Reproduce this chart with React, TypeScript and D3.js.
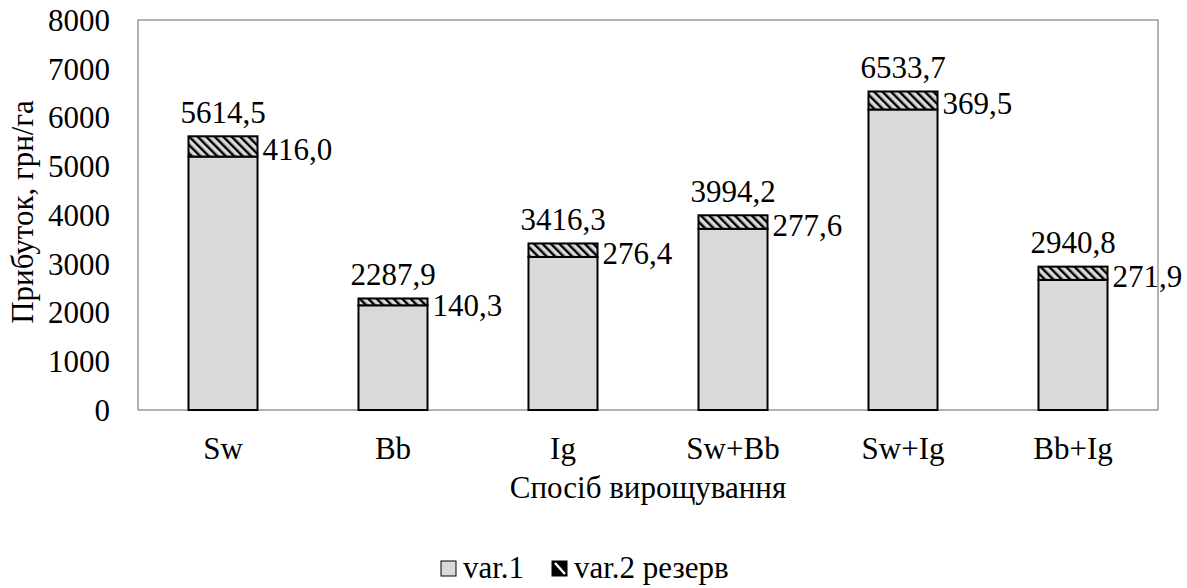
import React from "react";
import * as d3 from "d3";

const categories = ["Sw", "Bb", "Ig", "Sw+Bb", "Sw+Ig", "Bb+Ig"];
const var1Values = [5198.5, 2147.6, 3139.9, 3716.6, 6164.2, 2668.9];
const reserveValues = [416.0, 140.3, 276.4, 277.6, 369.5, 271.9];
const totalValues = [5614.5, 2287.9, 3416.3, 3994.2, 6533.7, 2940.8];
const yTicks = [0, 1000, 2000, 3000, 4000, 5000, 6000, 7000, 8000];
const seriesNames = ["var.1", "var.2 резерв"];
const yTitle = "Прибуток, грн/га";
const xTitle = "Спосіб вирощування";

const W = 1187;
const H = 588;
const plot = { left: 138, top: 20, right: 1158, bottom: 410 };
const FS = 31;
const GRAY = "#d9d9d9";

const fmt = (v: number) => v.toFixed(1).replace(".", ",");

function T(props: any) {
  const { children, ...rest } = props;
  return (
    <text
      {...rest}
      fontFamily="Liberation Serif"
      fontSize={FS}
      fill="#000"
      style={{ fontFamily: "Liberation Serif", fontSize: FS }}
    >
      {children}
    </text>
  );
}

export default function App() {
  const x = d3
    .scaleBand<string>()
    .domain(categories)
    .range([plot.left, plot.right])
    .paddingInner(0.594)
    .paddingOuter(0.297);
  const y = d3.scaleLinear().domain([0, 8000]).range([plot.bottom, plot.top]);
  const bw = x.bandwidth();
  const midX = (plot.left + plot.right) / 2;

  return (
    <div style={{ fontFamily: "Liberation Serif" }}>
      <svg
        width={W}
        height={H}
        fontFamily="Liberation Serif"
        style={{ position: "absolute", left: 0, top: 0, background: "#fff" }}
      >
        <defs>
          <pattern
            id="hatch"
            patternUnits="userSpaceOnUse"
            width={6}
            height={6}
            patternTransform="rotate(-45)"
          >
            <rect x={0} y={0} width={6} height={6} fill={GRAY} />
            <rect x={0} y={0} width={2.4} height={6} fill="#000" />
          </pattern>
        </defs>
        <rect x={0} y={0} width={W} height={H} fill="#fff" />
        <rect
          x={plot.left}
          y={plot.top}
          width={plot.right - plot.left}
          height={plot.bottom - plot.top}
          fill="none"
          stroke="#808080"
          strokeWidth={1.2}
        />
        {yTicks.map((t) => (
          <T key={t} x={110} y={y(t)} dy="0.35em" textAnchor="end">
            {t}
          </T>
        ))}
        {categories.map((c, i) => {
          const x0 = x(c)!;
          const yb = y(0);
          const y1 = y(var1Values[i]);
          const y2 = y(var1Values[i] + reserveValues[i]);
          const yt = y(totalValues[i]);
          return (
            <g key={c}>
              <rect x={x0} y={y1} width={bw} height={yb - y1} fill={GRAY} stroke="#000" strokeWidth={2} />
              <rect x={x0} y={y2} width={bw} height={y1 - y2} fill="url(#hatch)" stroke="#000" strokeWidth={2} />
              <T x={x0 + bw / 2} y={yt - 13.5} textAnchor="middle">
                {fmt(totalValues[i])}
              </T>
              <T x={x0 + bw + 5} y={(y1 + y2) / 2 + 14} textAnchor="start">
                {fmt(reserveValues[i])}
              </T>
              <T x={x0 + bw / 2} y={459} textAnchor="middle">
                {c}
              </T>
            </g>
          );
        })}
        <T x={midX} y={498} textAnchor="middle">
          {xTitle}
        </T>
        <T transform="translate(33,212) rotate(-90)" textAnchor="middle">
          {yTitle}
        </T>
        <g>
          <rect x={441} y={561} width={15} height={15} fill={GRAY} stroke="#000" strokeWidth={1} />
          <T x={463} y={578}>{seriesNames[0]}</T>
          <rect x={552} y={561} width={15} height={15} fill="#000" stroke="#000" strokeWidth={1} />
          <line x1={555} y1={563} x2={565} y2={574} stroke="#fff" strokeWidth={2.5} />
          <T x={574} y={578}>{seriesNames[1]}</T>
        </g>
      </svg>
    </div>
  );
}
